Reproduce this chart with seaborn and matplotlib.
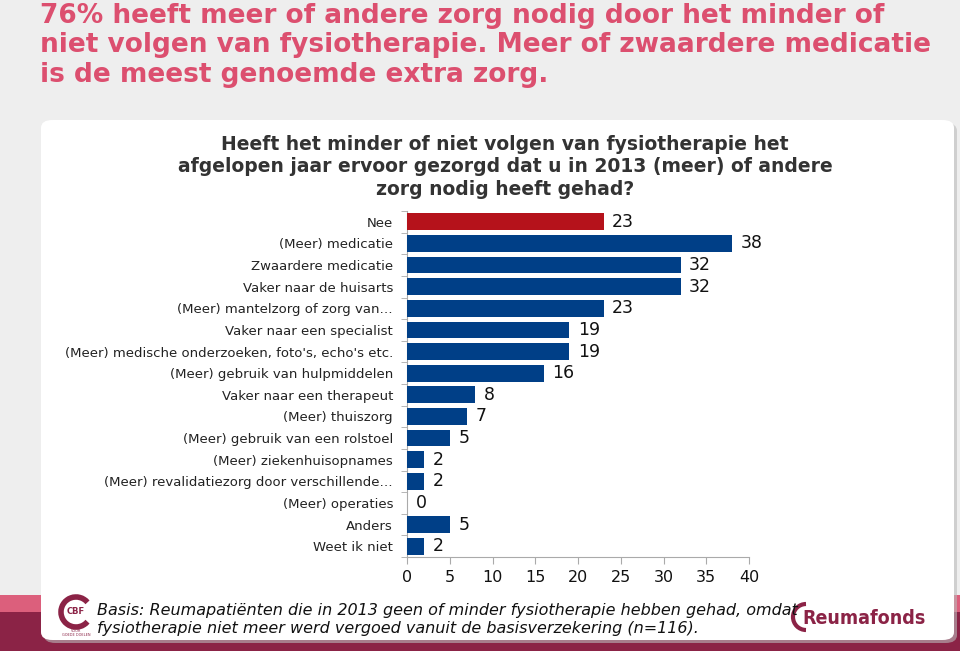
import matplotlib
matplotlib.use("Agg")
import matplotlib.pyplot as plt
from matplotlib.patches import FancyBboxPatch, Rectangle, Arc
import seaborn as sns
import pandas as pd
import numpy as np

categories = [
    "Nee",
    "(Meer) medicatie",
    "Zwaardere medicatie",
    "Vaker naar de huisarts",
    "(Meer) mantelzorg of zorg van…",
    "Vaker naar een specialist",
    "(Meer) medische onderzoeken, foto's, echo's etc.",
    "(Meer) gebruik van hulpmiddelen",
    "Vaker naar een therapeut",
    "(Meer) thuiszorg",
    "(Meer) gebruik van een rolstoel",
    "(Meer) ziekenhuisopnames",
    "(Meer) revalidatiezorg door verschillende…",
    "(Meer) operaties",
    "Anders",
    "Weet ik niet",
]
values = [23, 38, 32, 32, 23, 19, 19, 16, 8, 7, 5, 2, 2, 0, 5, 2]
groups = ["nee"] + ["ja"] * 15
x_ticks = [0, 5, 10, 15, 20, 25, 30, 35, 40]

headline = ("76% heeft meer of andere zorg nodig door het minder of\n"
            "niet volgen van fysiotherapie. Meer of zwaardere medicatie\n"
            "is de meest genoemde extra zorg.")
chart_title = ("Heeft het minder of niet volgen van fysiotherapie het\n"
               "afgelopen jaar ervoor gezorgd dat u in 2013 (meer) of andere\n"
               "zorg nodig heeft gehad?")
footnote = ("Basis: Reumapatiënten die in 2013 geen of minder fysiotherapie hebben gehad, omdat\n"
            "fysiotherapie niet meer werd vergoed vanuit de basisverzekering (n=116).")

df = pd.DataFrame({"categorie": categories, "waarde": values, "groep": groups})

plt.rcParams['font.family'] = ['DejaVu Sans']

fig = plt.figure(figsize=(9.6, 6.51), dpi=100)
fig.patch.set_facecolor("#eeeeee")

# bottom colour bands
fig.patches.append(Rectangle((0, 0), 1, 54 / 651, transform=fig.transFigure,
                             facecolor="#8b2346", edgecolor="none", zorder=-5))
fig.patches.append(Rectangle((0, 39 / 651), 1, 17 / 651, transform=fig.transFigure,
                             facecolor="#dc5f7c", edgecolor="none", zorder=-4))
# white panel with shadow
fig.patches.append(FancyBboxPatch((44 / 960, 8 / 651), 913 / 960, 520 / 651,
                                  boxstyle="round,pad=0,rounding_size=0.012",
                                  transform=fig.transFigure, facecolor="#bbbbbb",
                                  edgecolor="none", zorder=-3, alpha=0.6))
fig.patches.append(FancyBboxPatch((41 / 960, 11 / 651), 913 / 960, 520 / 651,
                                  boxstyle="round,pad=0,rounding_size=0.012",
                                  transform=fig.transFigure, facecolor="white",
                                  edgecolor="none", zorder=-2))

fig.text(40 / 960, 1 - 3 / 651, headline, ha="left", va="top", fontsize=19,
         fontweight="bold", color="#dc4f6f", linespacing=1.17)

fig.text(505 / 960, 1 - 135 / 651, chart_title, ha="center", va="top", fontsize=13.5,
         fontweight="bold", color="#333333", linespacing=1.22)

ax = fig.add_axes([407 / 960, 1 - 557 / 651, 342 / 960, 346 / 651])
ax.set_facecolor("none")
sns.barplot(data=df, y="categorie", x="waarde", hue="groep", dodge=False,
            palette={"nee": "#b5121b", "ja": "#003f87"}, saturation=1, width=0.78,
            legend=False, ax=ax, zorder=3)

for i, v in enumerate(values):
    ax.text(v + 1, i, str(v), va="center", ha="left", fontsize=12.5, color="#111111")

ax.set_xlim(0, 40)
ax.set_ylim(len(categories) - 0.5, -0.5)
ax.set_xticks(x_ticks)
ax.set_xticklabels([str(t) for t in x_ticks], fontsize=11.5)
ax.set_xlabel("")
ax.set_ylabel("")
ax.tick_params(axis="y", length=0, labelsize=9.5, labelcolor="#222222", pad=10)
ax.set_yticks(np.arange(-0.5, len(categories), 1), minor=True)
ax.tick_params(axis="y", which="minor", length=4, color="#aaaaaa", direction="out")
ax.tick_params(axis="x", length=5, color="#aaaaaa", pad=4, labelcolor="#111111")
for s in ["top", "right"]:
    ax.spines[s].set_visible(False)
for s in ["left", "bottom"]:
    ax.spines[s].set_color("#aaaaaa")
ax.grid(False)

fig.text(97 / 960, 1 - 620 / 651, footnote, ha="left", va="center", fontsize=11.5,
         style="italic", color="#111111", linespacing=1.25)

# simple logo stand-ins
lax = fig.add_axes([0, 0, 1, 1], facecolor="none")
lax.set_xlim(0, 960)
lax.set_ylim(651, 0)
lax.axis("off")
lax.add_patch(Arc((76, 612), 30, 30, theta1=40, theta2=320, color="#8b2346", lw=4))
lax.text(76, 611, "CBF", ha="center", va="center", fontsize=6, fontweight="bold", color="#8b2346")
lax.text(76, 633, "VOOR\nGOEDE DOELEN", ha="center", va="center", fontsize=2.5, color="#8b2346")
lax.add_patch(Arc((806, 617), 26, 26, theta1=90, theta2=270, color="#8b2346", lw=3))
lax.text(802, 618, "Reumafonds", ha="left", va="center", fontsize=14, fontweight="bold",
         color="#8b2346", fontstretch="condensed")

fig.savefig("out.png", dpi=100, facecolor=fig.get_facecolor())
